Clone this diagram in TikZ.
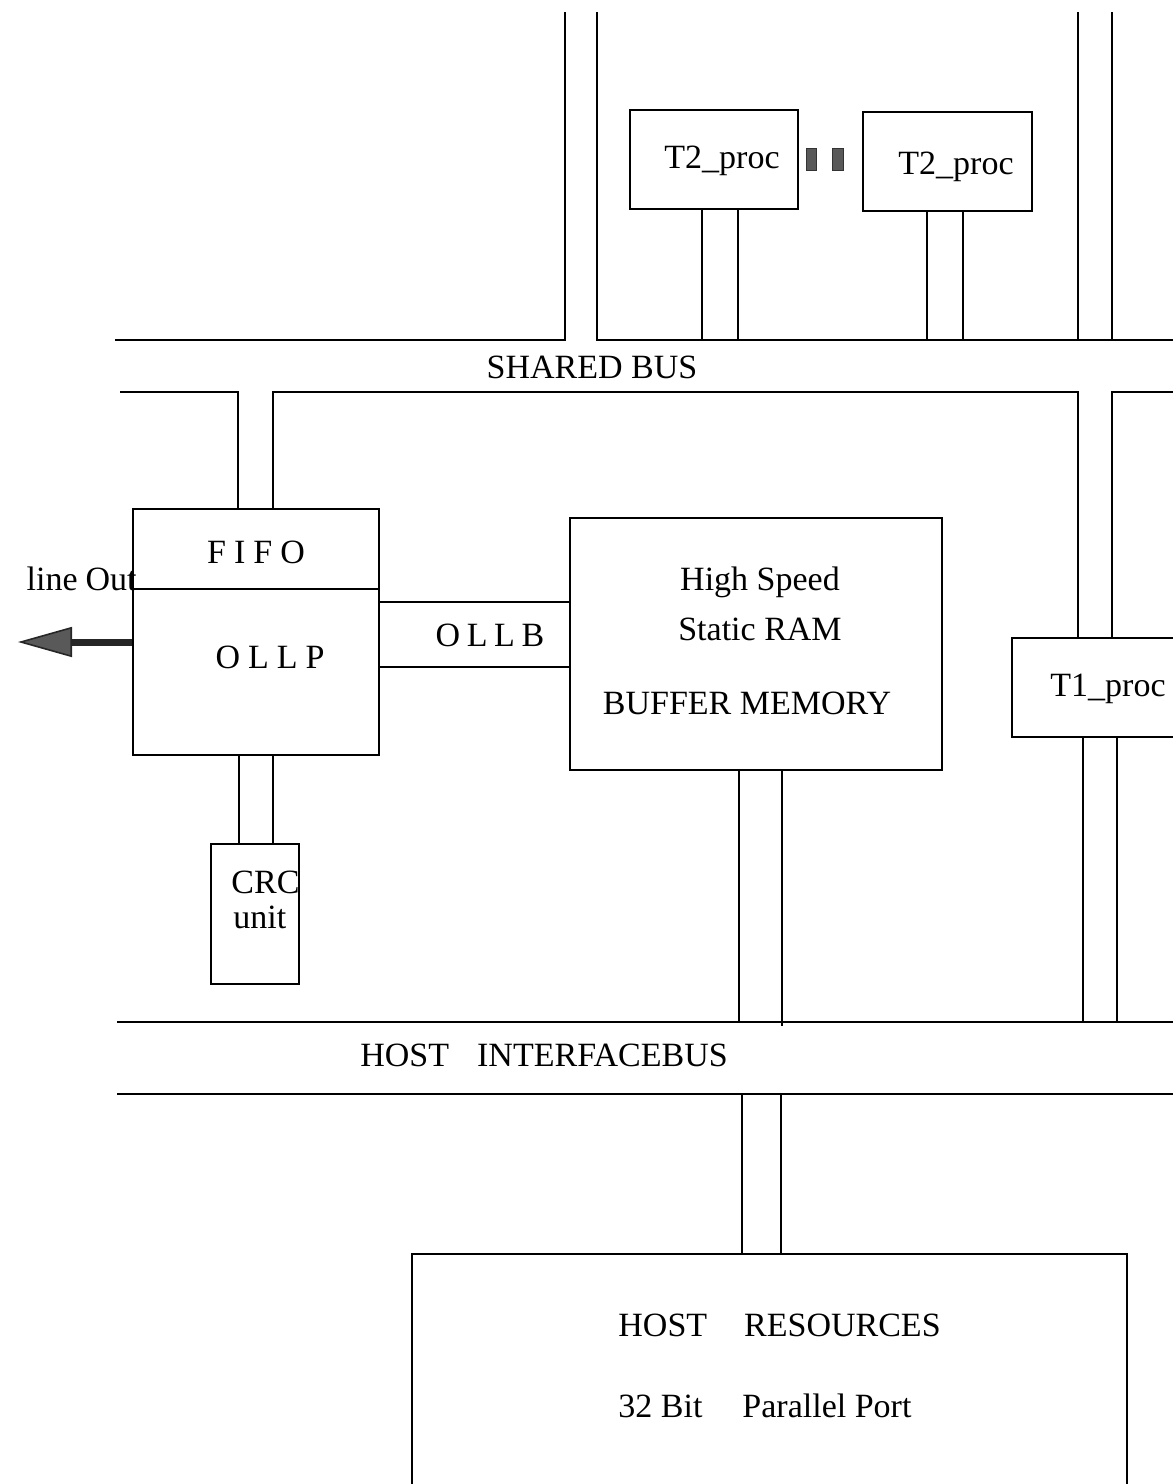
\documentclass[tikz,border=0pt]{standalone}
\usepackage{fontspec}
\setmainfont{Liberation Serif}
\usetikzlibrary{arrows.meta}
\begin{document}
\begin{tikzpicture}[x=0.5pt,y=-0.5pt,
  box/.style={draw, line width=1pt, inner sep=0pt},
  txt/.style={inner sep=0pt, font=\fontsize{17pt}{20pt}\selectfont},
  bus/.style={draw, line width=1pt},
  outarrow/.style={line width=3.5pt, black!85, -{Triangle[length=27pt,width=15pt,fill=black!65,line width=0.8pt]}}]
\useasboundingbox (0,0) rectangle (1173,1484);
\clip (0,0) rectangle (1173,1484);

% boxes
\node[box, minimum width=84pt, minimum height=49.5pt] (t2a) at (714,159.5) {};
\node[box, minimum width=84.5pt, minimum height=49.5pt] (t2b) at (947.5,161.5) {};
\node[box, minimum width=123pt, minimum height=40pt] (fifo) at (256,549) {};
\node[box, minimum width=123pt, minimum height=83pt] (ollp) at (256,672) {};
\node[box, minimum width=186pt, minimum height=126pt] (buf) at (756,644) {};
\node[box, minimum width=44pt, minimum height=70pt] (crc) at (255,914) {};
\node[box, minimum width=84pt, minimum height=49.5pt] (t1) at (1096,687.5) {};
\node[box, minimum width=357.5pt, minimum height=128pt] (host) at (769.5,1382) {};

% dots between T2 processors
\filldraw[fill=black!65, draw=black!80, line width=0.5pt] (806,148) rectangle (816,170);
\filldraw[fill=black!65, draw=black!80, line width=0.5pt] (832,148) rectangle (843,170);

% shared bus
\coordinate (lineout) at (18,642);
\draw[bus] (565,12) -- (565,340) -- (115,340);
\draw[bus] (597,12) -- (597,340) -- (1173,340);
\draw[bus] (1078,12) -- (1078,340);
\draw[bus] (1112,12) -- (1112,340);
\draw[bus] (120,392) -- (238,392) -- (fifo.north -| 238,0);
\draw[bus] (fifo.north -| 273,0) -- (273,392) -- (1078,392) -- (t1.north -| 1078,0);
\draw[bus] (t1.north -| 1112,0) -- (1112,392) -- (1173,392);

% T2 stems
\draw[bus] (t2a.south -| 702,0) -- (702,340);
\draw[bus] (t2a.south -| 738,0) -- (738,340);
\draw[bus] (t2b.south -| 927,0) -- (927,340);
\draw[bus] (t2b.south -| 963,0) -- (963,340);

% OLLP to CRC
\draw[bus] (ollp.south -| 239,0) -- (crc.north -| 239,0);
\draw[bus] (ollp.south -| 273,0) -- (crc.north -| 273,0);

% OLLB
\draw[bus] (ollp.east |- 0,602) -- (buf.west |- 0,602);
\draw[bus] (ollp.east |- 0,667) -- (buf.west |- 0,667);

% buffer memory and T1 stems
\draw[bus] (buf.south -| 739,0) -- (739,1022);
\draw[bus] (buf.south -| 782,0) -- (782,1026);
\draw[bus] (t1.south -| 1083,0) -- (1083,1022);
\draw[bus] (t1.south -| 1117,0) -- (1117,1022);

% host interface bus
\draw[bus] (117,1022) -- (1173,1022);
\draw[bus] (117,1094) -- (1173,1094);
\draw[bus] (742,1094) -- (host.north -| 742,0);
\draw[bus] (781,1094) -- (host.north -| 781,0);

% line out arrow
\draw[outarrow] (ollp.west |- 0,642) -- (lineout);

% texts
\node[txt, anchor=base] (t2atxt) at (722,168) {T2\_proc};
\node[txt, anchor=base] (t2btxt) at (956,174) {T2\_proc};
\node[txt, anchor=base] (sbtxt) at (592,378) {SHARED BUS};
\node[txt, anchor=base] (fifotxt) at (256,563) {F\hspace{4pt}I\hspace{4pt}F\hspace{4pt}O};
\node[txt, anchor=base] (ollptxt) at (270,668) {O\hspace{4pt}L\hspace{4pt}L\hspace{4pt}P};
\node[txt, anchor=base] (ollbtxt) at (490,646) {O\hspace{3.3pt}L\hspace{3.3pt}L\hspace{3.3pt}B};
\node[txt, anchor=base east] (lotxt) at (137,590) {line\hspace{4pt}Out};
\node[txt, anchor=base] (hs) at (760,590) {High Speed};
\node[txt, anchor=base] (sr) at (760,640) {Static RAM};
\node[txt, anchor=base] (bm) at (747,714) {BUFFER MEMORY};
\node[txt, anchor=base west] (crctxt) at (231,893) {CRC};
\node[txt, anchor=base west] (unittxt) at (233,928) {unit};
\node[txt, anchor=base] (t1txt) at (1108,696) {T1\_proc};
\node[txt, anchor=base west] (hibtxt) at (360,1066) {HOST\hspace{14pt}INTERFACEBUS};
\node[txt, anchor=base west] (hrtxt) at (618,1336) {HOST\hspace{18.5pt}RESOURCES};
\node[txt, anchor=base west] (pptxt) at (618,1417) {32 Bit\hspace{20pt}Parallel Port};
\end{tikzpicture}
\end{document}
